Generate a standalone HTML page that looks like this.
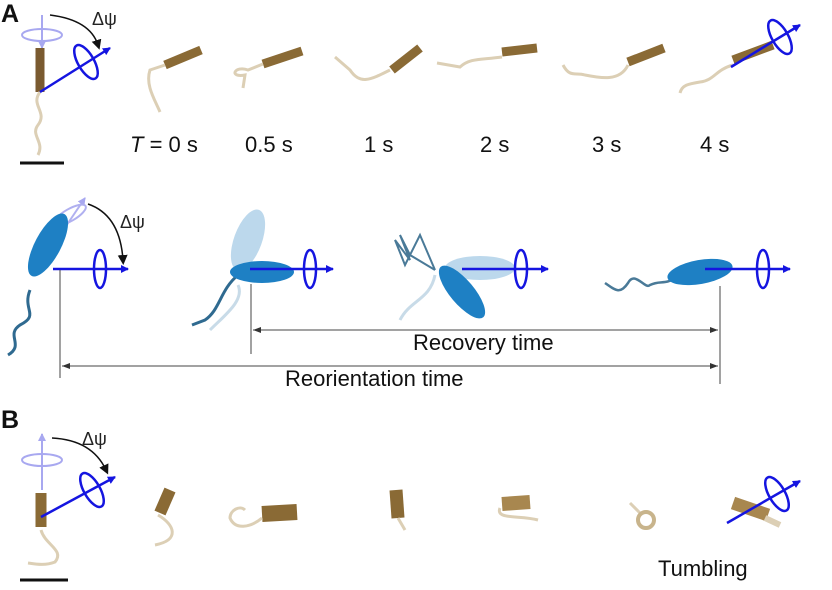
<!DOCTYPE html>
<html><head><meta charset="utf-8"><style>
html,body{margin:0;padding:0;background:#fff;}
svg{display:block;font-family:"Liberation Sans",sans-serif;}
</style></head><body>
<svg width="832" height="590" viewBox="0 0 832 590" xmlns="http://www.w3.org/2000/svg">
<defs>
<marker id="bl" markerWidth="8" markerHeight="8" refX="7" refY="4" orient="auto" markerUnits="userSpaceOnUse"><path d="M0,0 L8,4 L0,8 z" fill="#1515e0"/></marker>
<marker id="lb" markerWidth="8" markerHeight="8" refX="7" refY="4" orient="auto" markerUnits="userSpaceOnUse"><path d="M0,0 L8,4 L0,8 z" fill="#a8a8f0"/></marker>
<marker id="bk" markerWidth="10" markerHeight="10" refX="5" refY="5" orient="auto" markerUnits="userSpaceOnUse"><path d="M0,0 L10,5 L0,10 z" fill="#111"/></marker>
<marker id="gk" markerWidth="8" markerHeight="6" refX="0" refY="3" orient="auto" markerUnits="userSpaceOnUse"><path d="M8,0 L0,3 L8,6 z" fill="#333"/></marker>
<marker id="gk2" markerWidth="8" markerHeight="6" refX="8" refY="3" orient="auto" markerUnits="userSpaceOnUse"><path d="M0,0 L8,3 L0,6 z" fill="#333"/></marker>
</defs>
<g fill="#111" font-weight="bold" font-size="25"><text x="1" y="22">A</text><text x="1" y="428">B</text></g>

<line x1="42" y1="15" x2="42" y2="48" stroke="#a8a8f0" stroke-width="2" marker-end="url(#lb)"/>
<ellipse cx="42" cy="35" rx="20" ry="6" fill="none" stroke="#a8a8f0" stroke-width="2"/>
<path d="M50,15 Q90,20 98,45" fill="none" stroke="#111" stroke-width="1.5" marker-end="url(#bk)"/>
<text x="92" y="25" font-size="18" fill="#222">Δψ</text>
<line x1="40" y1="48" x2="40" y2="92" stroke="#7a5a30" stroke-width="9"/>
<path d="M40,92 C30,105 48,112 38,125 C30,135 45,142 38,155" fill="none" stroke="#dccfb5" stroke-width="3"/>
<line x1="40" y1="92" x2="110" y2="48" stroke="#1515e0" stroke-width="2.5" marker-end="url(#bl)"/>
<ellipse cx="86" cy="62" rx="8" ry="19" transform="rotate(-30 86 62)" fill="none" stroke="#1515e0" stroke-width="2.5"/>
<line x1="20" y1="163" x2="64" y2="163" stroke="#111" stroke-width="3"/>

<g stroke="#8a6a35" stroke-width="9">
<line x1="165" y1="65" x2="201" y2="50"/>
<line x1="263" y1="64" x2="302" y2="51"/>
<line x1="392" y1="70" x2="420" y2="48"/>
<line x1="502" y1="52" x2="537" y2="48"/>
<line x1="628" y1="62" x2="664" y2="48"/>
<line x1="733" y1="60" x2="773" y2="45"/>
</g>
<g fill="none" stroke="#dccfb5" stroke-width="3">
<path d="M165,65 L150,70 C145,85 155,100 160,112"/>
<path d="M263,64 L248,70 C235,65 228,78 245,75 L243,88"/>
<path d="M390,70 C370,80 360,85 350,70 L335,57"/>
<path d="M502,57 C480,60 470,58 460,67 L437,63"/>
<path d="M628,65 C620,82 600,78 585,75 C575,72 570,78 563,65"/>
<path d="M733,65 C715,70 715,80 700,82 C688,84 682,85 680,93"/>
</g>
<line x1="731" y1="67" x2="800" y2="25" stroke="#1515e0" stroke-width="2.5" marker-end="url(#bl)"/>
<ellipse cx="780" cy="37" rx="8" ry="19" transform="rotate(-30 780 37)" fill="none" stroke="#1515e0" stroke-width="2.5"/>

<g font-size="22" fill="#111">
<text x="130" y="152"><tspan font-style="italic">T</tspan> = 0 s</text>
<text x="245" y="152">0.5 s</text>
<text x="364" y="152">1 s</text>
<text x="480" y="152">2 s</text>
<text x="592" y="152">3 s</text>
<text x="700" y="152">4 s</text>
</g>

<line x1="62" y1="232" x2="85" y2="198" stroke="#b0b0f0" stroke-width="2" marker-end="url(#lb)"/>
<ellipse cx="70" cy="215" rx="18" ry="6" transform="rotate(-30 70 215)" fill="none" stroke="#b0b0f0" stroke-width="2"/>
<path d="M88,204 Q120,215 123,260" fill="none" stroke="#111" stroke-width="1.5" marker-end="url(#bk)"/>
<text x="120" y="228" font-size="18" fill="#222">Δψ</text>
<path d="M30,290 C22,310 40,315 20,325 C5,335 25,345 8,355" fill="none" stroke="#2f6a90" stroke-width="3"/>
<ellipse cx="48" cy="245" rx="13" ry="35" transform="rotate(28 48 245)" fill="#1e80c4"/>
<line x1="53" y1="269" x2="128" y2="269" stroke="#1515e0" stroke-width="2.5" marker-end="url(#bl)"/>
<ellipse cx="100" cy="269" rx="6" ry="19" fill="none" stroke="#1515e0" stroke-width="2.5"/>

<ellipse cx="248" cy="240" rx="14" ry="32" transform="rotate(20 248 240)" fill="#bcd8ec"/>
<path d="M238,275 C220,290 220,310 205,320 L192,325" fill="none" stroke="#2f6a90" stroke-width="3"/>
<path d="M238,285 C245,300 225,315 210,330" fill="none" stroke="#c8dbe8" stroke-width="3"/>
<ellipse cx="262" cy="272" rx="32" ry="11" fill="#1e80c4"/>
<line x1="250" y1="269" x2="333" y2="269" stroke="#1515e0" stroke-width="2.5" marker-end="url(#bl)"/>
<ellipse cx="310" cy="269" rx="6" ry="19" fill="none" stroke="#1515e0" stroke-width="2.5"/>

<ellipse cx="480" cy="268" rx="35" ry="12" fill="#bcd8ec"/>
<path d="M435,270 L410,255 L400,235 L410,260 L395,240 L405,265 L420,235 L435,270" fill="none" stroke="#4a7a98" stroke-width="2"/>
<path d="M435,275 C430,300 410,300 400,320" fill="none" stroke="#c8dbe8" stroke-width="3"/>
<ellipse cx="462" cy="292" rx="12" ry="33" transform="rotate(-40 462 292)" fill="#1e80c4"/>
<line x1="462" y1="269" x2="548" y2="269" stroke="#1515e0" stroke-width="2.5" marker-end="url(#bl)"/>
<ellipse cx="521" cy="269" rx="6" ry="19" fill="none" stroke="#1515e0" stroke-width="2.5"/>

<path d="M605,283 C615,290 620,295 628,283 C635,270 645,290 650,285 C660,280 665,285 675,278" fill="none" stroke="#4a7a98" stroke-width="2.5"/>
<ellipse cx="700" cy="272" rx="33" ry="12" transform="rotate(-10 700 272)" fill="#1e80c4"/>
<line x1="705" y1="269" x2="790" y2="269" stroke="#1515e0" stroke-width="2.5" marker-end="url(#bl)"/>
<ellipse cx="763" cy="269" rx="6" ry="19" fill="none" stroke="#1515e0" stroke-width="2.5"/>

<g stroke="#444" stroke-width="1">
<line x1="60" y1="270" x2="60" y2="378"/>
<line x1="251" y1="284" x2="251" y2="354"/>
<line x1="720" y1="286" x2="720" y2="384"/>
<line x1="253" y1="330" x2="718" y2="330" marker-start="url(#gk)" marker-end="url(#gk2)"/>
<line x1="62" y1="366" x2="718" y2="366" marker-start="url(#gk)" marker-end="url(#gk2)"/>
</g>
<text x="413" y="350" font-size="22" fill="#111">Recovery time</text>
<text x="285" y="386" font-size="22" fill="#111">Reorientation time</text>

<line x1="42" y1="490" x2="42" y2="434" stroke="#a8a8f0" stroke-width="2" marker-end="url(#lb)"/>
<ellipse cx="42" cy="460" rx="20" ry="6" fill="none" stroke="#a8a8f0" stroke-width="2"/>
<path d="M52,438 Q92,440 106,470" fill="none" stroke="#111" stroke-width="1.5" marker-end="url(#bk)"/>
<text x="82" y="445" font-size="18" fill="#222">Δψ</text>
<line x1="41" y1="493" x2="41" y2="527" stroke="#8a6a35" stroke-width="11"/>
<path d="M41,530 C45,545 65,550 55,562 C45,566 35,564 28,563" fill="none" stroke="#dccfb5" stroke-width="3"/>
<line x1="41" y1="517" x2="115" y2="477" stroke="#1515e0" stroke-width="2.5" marker-end="url(#bl)"/>
<ellipse cx="92" cy="490" rx="8" ry="19" transform="rotate(-30 92 490)" fill="none" stroke="#1515e0" stroke-width="2.5"/>
<line x1="20" y1="580" x2="68" y2="580" stroke="#111" stroke-width="3"/>

<g stroke="#8a6a35">
<line x1="170" y1="490" x2="160" y2="513" stroke-width="12"/>
<line x1="262" y1="514" x2="297" y2="512" stroke-width="16"/>
<line x1="396" y1="490" x2="398" y2="518" stroke-width="13"/>
<line x1="502" y1="504" x2="530" y2="502" stroke-width="14" stroke="#a8874f"/>
<line x1="733" y1="503" x2="768" y2="515" stroke-width="13" stroke="#a8874f"/>
</g>
<g fill="none" stroke="#dccfb5" stroke-width="3">
<path d="M158,515 C175,525 180,540 155,545"/>
<path d="M262,518 C250,528 235,530 230,518 C230,510 240,505 245,510"/>
<path d="M398,518 L405,530"/>
<path d="M500,508 C495,520 520,515 538,520"/>
<path d="M630,503 L642,515"/>
<path d="M765,518 L780,525" stroke-width="6"/>
</g>
<circle cx="646" cy="520" r="8" fill="none" stroke="#c8b48c" stroke-width="4"/>
<line x1="727" y1="523" x2="800" y2="481" stroke="#1515e0" stroke-width="2.5" marker-end="url(#bl)"/>
<ellipse cx="777" cy="494" rx="8" ry="19" transform="rotate(-30 777 494)" fill="none" stroke="#1515e0" stroke-width="2.5"/>
<text x="658" y="576" font-size="22" fill="#111">Tumbling</text>
</svg>
</body></html>
